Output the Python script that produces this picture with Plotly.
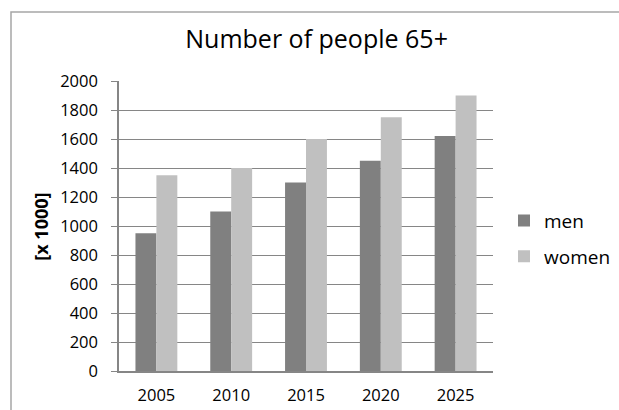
import plotly.graph_objects as go

years = ["2005", "2010", "2015", "2020", "2025"]
men = [950, 1100, 1300, 1450, 1620]
women = [1350, 1400, 1600, 1750, 1900]
y_ticks = [0, 200, 400, 600, 800, 1000, 1200, 1400, 1600, 1800, 2000]

W, H = 619, 410
L, R, T, B = 119, 126, 81, 39
pw, ph = W - L - R, H - T - B

def px_x(px):
    return (px - L) / pw

def px_y(py):
    return (H - B - py) / ph

FONT = "Open Sans"

fig = go.Figure()
fig.add_trace(go.Bar(name="men", x=years, y=men, marker_color="#808080",
                     marker_line_width=0, legendgroup="a"))
fig.add_trace(go.Bar(name="women", x=years, y=women, marker_color="#c0c0c0",
                     marker_line_width=0, legendgroup="b"))

fig.update_layout(
    width=W, height=H,
    margin=dict(l=L, r=R, t=T, b=B, autoexpand=False),
    paper_bgcolor="white", plot_bgcolor="white",
    barmode="group", bargap=0.44, bargroupgap=0,
    font=dict(family=FONT, color="black", size=16.5),
    title=dict(text="Number of people 65+", x=316.6 / W, xref="container",
               y=1 - 39.5 / H, yref="container", xanchor="center", yanchor="middle",
               font=dict(family=FONT, size=25, color="black")),
    showlegend=True,
    legend=dict(x=px_x(504), y=px_y(238.7), xanchor="left", yanchor="middle",
                xref="paper", yref="paper",
                font=dict(family=FONT, size=19, color="black"),
                tracegroupgap=8, bgcolor="rgba(0,0,0,0)"),
    xaxis=dict(showgrid=False, showline=True, linecolor="#868686", linewidth=1.5,
               ticks="", ticklabelstandoff=8,
               tickfont=dict(family=FONT, size=16.5, color="black")),
    yaxis=dict(range=[0, 2000], tickvals=y_ticks, showgrid=True,
               gridcolor="#868686", gridwidth=1, zeroline=False,
               showline=True, linecolor="#868686", linewidth=1.5,
               ticks="outside", ticklen=6, tickcolor="#868686", tickwidth=1,
               ticklabelstandoff=10,
               tickfont=dict(family=FONT, size=16.5, color="black")),
)

fig.add_annotation(text="<b>[x 1000]</b>", xref="paper", yref="paper",
                   x=px_x(41), y=px_y(226.7), textangle=-90, showarrow=False,
                   xanchor="center", yanchor="middle",
                   font=dict(family=FONT, size=18, color="black"))

fig.add_shape(type="rect", xref="paper", yref="paper",
              x0=px_x(11), x1=px_x(630), y0=px_y(420), y1=px_y(12),
              line=dict(color="#a6a6a6", width=1.5), fillcolor="rgba(0,0,0,0)",
              layer="below")

fig.write_html("out.html")
